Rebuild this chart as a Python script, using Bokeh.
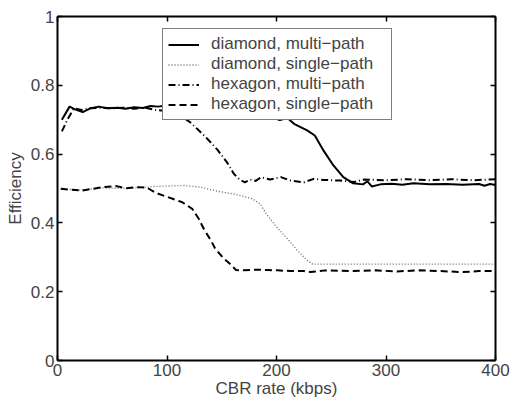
from bokeh.plotting import figure
from bokeh.models import (Range1d, LinearAxis, FixedTicker, Legend, LegendItem,
                          CustomLabelingPolicy)
from bokeh.embed import file_html
from bokeh.resources import INLINE

FONT = "Liberation Sans"

# ---- data ----
dm_x = [4, 11, 16, 23, 30, 38, 45, 55, 62, 70, 78, 85, 92, 100, 115, 130, 150, 170, 185,
        196, 203, 210, 216, 228, 235, 243, 252, 261, 270, 279, 283, 287, 295, 305, 315,
        325, 340, 355, 370, 385, 390, 395, 400]
dm_y = [0.700, 0.738, 0.730, 0.722, 0.733, 0.738, 0.733, 0.735, 0.732, 0.736, 0.734, 0.740,
        0.738, 0.742, 0.738, 0.740, 0.735, 0.725, 0.713, 0.707, 0.699, 0.705, 0.688, 0.669,
        0.654, 0.610, 0.567, 0.533, 0.515, 0.512, 0.521, 0.506, 0.512, 0.514, 0.511, 0.515,
        0.512, 0.513, 0.511, 0.513, 0.508, 0.513, 0.510]

ds_x = [3, 20, 40, 60, 80, 88, 100, 115, 130, 146, 161, 172, 178, 185, 192, 201, 210, 219,
        227, 233, 250, 300, 350, 400]
ds_y = [0.500, 0.495, 0.502, 0.500, 0.503, 0.506, 0.507, 0.509, 0.504, 0.492, 0.484, 0.475,
        0.470, 0.455, 0.420, 0.385, 0.354, 0.320, 0.294, 0.280, 0.280, 0.280, 0.280, 0.280]

hm_x = [4, 9, 15, 22, 30, 40, 50, 60, 70, 80, 90, 97, 105, 112, 121, 128, 137, 146, 155,
        161, 166, 171, 176, 181, 186, 194, 204, 213, 225, 234, 243, 258, 271, 280, 300,
        320, 340, 360, 380, 400]
hm_y = [0.666, 0.700, 0.733, 0.728, 0.733, 0.735, 0.733, 0.735, 0.732, 0.735, 0.728, 0.726,
        0.720, 0.712, 0.693, 0.672, 0.644, 0.613, 0.575, 0.543, 0.527, 0.518, 0.526, 0.522,
        0.533, 0.526, 0.533, 0.523, 0.518, 0.528, 0.525, 0.523, 0.519, 0.526, 0.524, 0.527,
        0.524, 0.527, 0.524, 0.527]

hs_x = [3, 10, 22, 32, 42, 53, 63, 74, 82, 90, 99, 114, 123, 129, 134, 140, 144, 152, 158,
        163, 170, 182, 192, 201, 213, 225, 231, 245, 270, 290, 310, 330, 350, 370, 385, 400]
hs_y = [0.499, 0.497, 0.494, 0.499, 0.504, 0.507, 0.501, 0.504, 0.502, 0.487, 0.477, 0.460,
        0.441, 0.412, 0.380, 0.350, 0.325, 0.296, 0.280, 0.263, 0.262, 0.264, 0.263, 0.262,
        0.260, 0.260, 0.257, 0.262, 0.260, 0.262, 0.259, 0.262, 0.260, 0.257, 0.260, 0.260]

labels = ["diamond, multi\u2212path", "diamond, single\u2212path",
          "hexagon, multi\u2212path", "hexagon, single\u2212path"]

x_ticks = [0, 100, 200, 300, 400]
y_ticks = [0, 0.2, 0.4, 0.6, 0.8, 1]
y_tick_labels = ["0", "0.2", "0.4", "0.6", "0.8", "1"]

# ---- figure ----
p = figure(width=511, height=401, output_backend="svg", toolbar_location=None,
           x_range=Range1d(0, 400), y_range=Range1d(0, 1),
           min_border_left=57, min_border_right=16, min_border_top=16,
           min_border_bottom=41)
p.background_fill_color = "white"
p.border_fill_color = "white"
p.outline_line_color = None
p.xgrid.visible = False
p.ygrid.visible = False

r1 = p.line(dm_x, dm_y, line_color="black", line_width=2)
r2 = p.line(ds_x, ds_y, line_color="#666666", line_width=1.3, line_dash="1 2")
r3 = p.line(hm_x, hm_y, line_color="black", line_width=2, line_dash="7 3 1 3")
r4 = p.line(hs_x, hs_y, line_color="black", line_width=2, line_dash="7 4")


def style_axis(ax, ticks):
    ax.ticker = FixedTicker(ticks=ticks)
    ax.axis_line_width = 2
    ax.axis_line_color = "black"
    ax.major_tick_in = 5
    ax.major_tick_out = 0
    ax.major_tick_line_width = 1.5
    ax.minor_tick_line_color = None
    ax.major_label_text_font = FONT
    ax.major_label_text_font_size = "17px"
    ax.axis_label_text_font = FONT
    ax.axis_label_text_font_size = "17px"
    ax.axis_label_text_font_style = "normal"


xa = p.xaxis[0]
style_axis(xa, x_ticks)
xa.axis_label = "CBR rate (kbps)"
xa.major_label_standoff = 3
xa.axis_label_standoff = 0

ya = p.yaxis[0]
style_axis(ya, y_ticks)
ya.axis_label = "Efficiency"
ya.major_label_standoff = 3
ya.axis_label_standoff = 3
ya.major_label_overrides = {t: s for t, s in zip(y_ticks, y_tick_labels)}

# box axes (top / right): ticks only, no labels drawn and no space taken
top = LinearAxis()
style_axis(top, x_ticks)
top.major_label_text_font_size = "0px"
top.major_label_policy = CustomLabelingPolicy(code="if (false) { yield 0 }")
top.major_label_standoff = 0
p.add_layout(top, "above")

right = LinearAxis()
style_axis(right, y_ticks)
right.major_label_text_font_size = "0px"
right.major_label_policy = CustomLabelingPolicy(code="if (false) { yield 0 }")
right.major_label_standoff = 0
p.add_layout(right, "right")

legend = Legend(items=[LegendItem(label=labels[0], renderers=[r1]),
                       LegendItem(label=labels[1], renderers=[r2]),
                       LegendItem(label=labels[2], renderers=[r3]),
                       LegendItem(label=labels[3], renderers=[r4])],
                location=(105, 240))
legend.label_text_font = FONT
legend.label_text_font_size = "17px"
legend.padding = 5
legend.margin = 0
legend.spacing = 0
legend.glyph_width = 31
legend.glyph_height = 19
legend.label_height = 19
legend.label_standoff = 12
legend.label_width = 175
legend.border_line_color = "black"
legend.border_line_width = 1
legend.background_fill_color = "white"
legend.background_fill_alpha = 1
p.add_layout(legend)

open("out.html", "w").write(file_html(p, INLINE))
